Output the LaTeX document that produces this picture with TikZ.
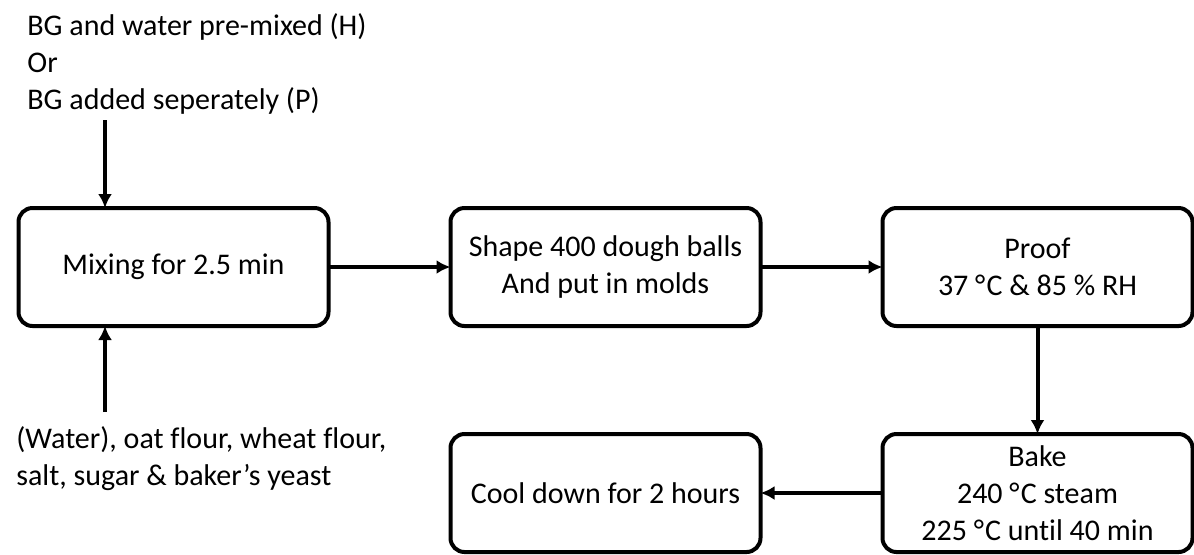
\documentclass[tikz,border=0pt]{standalone}
\usepackage{fontspec}
\setmainfont{Carlito}[Ligatures=NoCommon]
\usepackage{tikz}
\usetikzlibrary{arrows.meta, positioning}

\begin{document}
\begin{tikzpicture}[
    stage/.style={rectangle, rounded corners=7pt, draw=black, line width=2pt, outer sep=0pt, minimum width=155pt, minimum height=59pt, align=center, font=\fontsize{15}{18.5}\selectfont},
    note/.style={align=left, inner sep=0pt, font=\fontsize{15}{18.5}\selectfont},
    arrow/.style={-{Latex[length=7pt, width=7pt]}, line width=2pt, color=black}
]
    \useasboundingbox (0,0) rectangle (597pt,-277pt);

    \node[stage] (mix) at (86.75pt,-133.5pt) {Mixing for 2.5 min};

    \node[stage, right=61pt of mix] (shape) {
        Shape 400 dough balls\\
        And put in molds
    };
    \node[stage, right=61pt of shape] (proof) {
        Proof\\
        37 °\kern0.6pt C \& 85 \% RH
    };
    \node[stage, below=54pt of proof] (bake) {
        Bake\\
        240 °\kern0.6pt C steam\\
        225 °\kern0.6pt C until 40 min
    };
    \node[stage, left=61pt of bake] (cool) {Cool down for 2 hours};

    \node[note, anchor=north west] (bginfo) at (13.5pt,-6.5pt) {
        BG and water pre-mixed (H)\\
        Or\\
        BG added seperately (P)
    };
    \node[note, anchor=north west] (ingr) at (8pt,-213pt) {
        (Water), oat flour, wheat flour,\\
        salt, sugar \& baker’s yeast
    };

    \coordinate (bgin) at (52.5pt,-60pt);
    \coordinate (ingin) at (52.5pt,-206pt);

    \draw[arrow] (bgin) -- (bgin |- mix.north);
    \draw[arrow] (ingin) -- (ingin |- mix.south);
    \draw[arrow] (mix) -- (shape);
    \draw[arrow] (shape) -- (proof);
    \draw[arrow] (proof) -- (bake);
    \draw[arrow] (bake) -- (cool);
\end{tikzpicture}
\end{document}
